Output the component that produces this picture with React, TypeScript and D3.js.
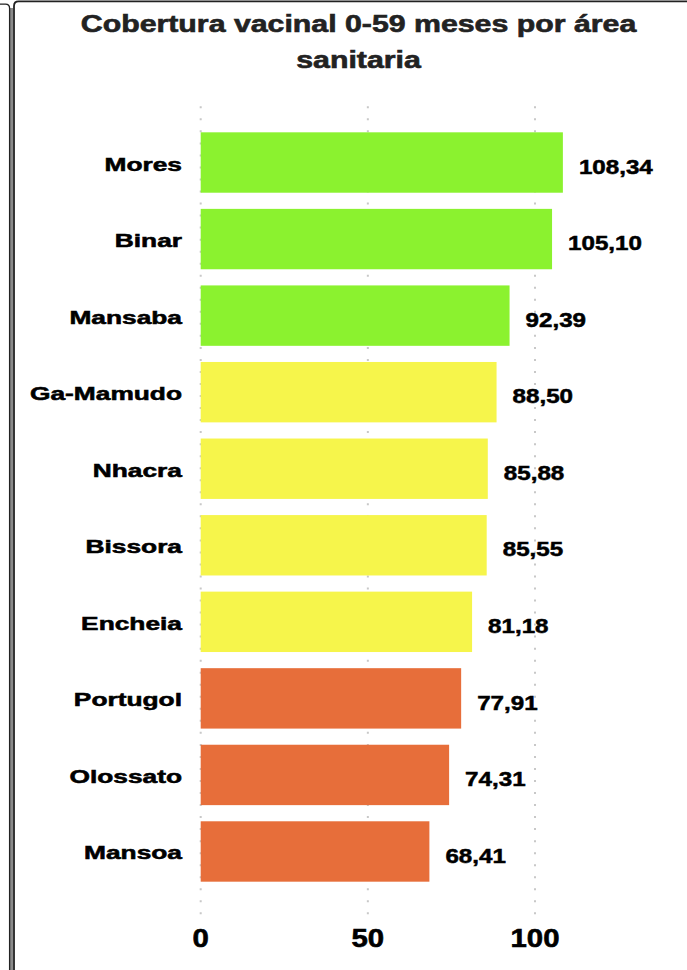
import React from "react";
import * as d3 from "d3";

const categories = ["Mores", "Binar", "Mansaba", "Ga-Mamudo", "Nhacra", "Bissora", "Encheia", "Portugol", "Olossato", "Mansoa"];
const values = [108.34, 105.1, 92.39, 88.5, 85.88, 85.55, 81.18, 77.91, 74.31, 68.41];
const valueLabels = ["108,34", "105,10", "92,39", "88,50", "85,88", "85,55", "81,18", "77,91", "74,31", "68,41"];
const tickValues = [0, 50, 100];
const titleLines = ["Cobertura vacinal 0-59 meses por área", "sanitaria"];

const W = 687;
const H = 970;
const FONT = "'Liberation Sans', Arial, sans-serif";

function colorFor(v: number) {
  if (v >= 90) return "#8BF22F";
  if (v >= 80) return "#F6F54B";
  return "#E76E3A";
}

export default function App() {
  const x = d3.scaleLinear().domain([0, 100]).range([200.7, 535]);
  const y = d3.scaleBand<string>().domain(categories).range([102, 912]).paddingInner(0.211).paddingOuter(0.396);
  const bw = y.bandwidth();

  return (
    <svg width={W} height={H} style={{ position: "absolute", left: 0, top: 0, background: "#fff" }}>
      <rect x={0} y={0} width={W} height={H} fill="#fff" />
      {/* frame */}
      <rect x={10} y={8} width={3.2} height={H - 8} fill="#8a8a8a" />
      <path d="M0,4.2 H5.5 Q9.6,4.2 9.6,8.5 V970" fill="none" stroke="#222" strokeWidth={1.3} />
      <path d="M14,970 V6 Q14,1.3 18.5,1.3 H687" fill="none" stroke="#222" strokeWidth={1.8} />

      {/* title */}
      {titleLines.map((t, i) => (
        <g key={t} transform={`translate(358.5,${i === 0 ? 31.7 : 68})`}>
          <text
            transform="scale(1.3,1)"
            textAnchor="middle"
            fontFamily={FONT}
            fontWeight="bold"
            fontSize={23.3}
            fill="#222"
            stroke="#222"
            strokeWidth={0.6}
          >
            {t}
          </text>
        </g>
      ))}

      {/* gridlines */}
      {tickValues.map((t) => (
        <line
          key={"g" + t}
          x1={x(t)}
          x2={x(t)}
          y1={106.3}
          y2={915}
          stroke="#c8c8c8"
          strokeWidth={2}
          strokeDasharray="2 10.03"
        />
      ))}

      {/* bars */}
      {categories.map((c, i) => (
        <rect key={c} x={x(0)} y={y(c)!} width={x(values[i]) - x(0)} height={bw} fill={colorFor(values[i])} />
      ))}

      {/* category labels */}
      {categories.map((c) => (
        <g key={"l" + c} transform={`translate(182,${y(c)! + bw / 2 + 8})`}>
          <text transform="scale(1.4,1)" textAnchor="end" fontFamily={FONT} fontWeight="bold" fontSize={18.8} fill="#000" stroke="#000" strokeWidth={0.55}>
            {c}
          </text>
        </g>
      ))}

      {/* value labels */}
      {categories.map((c, i) => (
        <g key={"v" + c} transform={`translate(${x(values[i]) + 16},${y(c)! + bw / 2 + 11.2})`}>
          <text transform="scale(1.24,1)" textAnchor="start" fontFamily={FONT} fontWeight="bold" fontSize={19.5} fill="#000" stroke="#000" strokeWidth={0.5}>
            {valueLabels[i]}
          </text>
        </g>
      ))}

      {/* x ticks */}
      {tickValues.map((t) => (
        <g key={"t" + t} transform={`translate(${x(t)},946.7)`}>
          <text transform="scale(1.15,1)" textAnchor="middle" fontFamily={FONT} fontWeight="bold" fontSize={25.5} fill="#000" stroke="#000" strokeWidth={0.6}>
            {t}
          </text>
        </g>
      ))}
    </svg>
  );
}
